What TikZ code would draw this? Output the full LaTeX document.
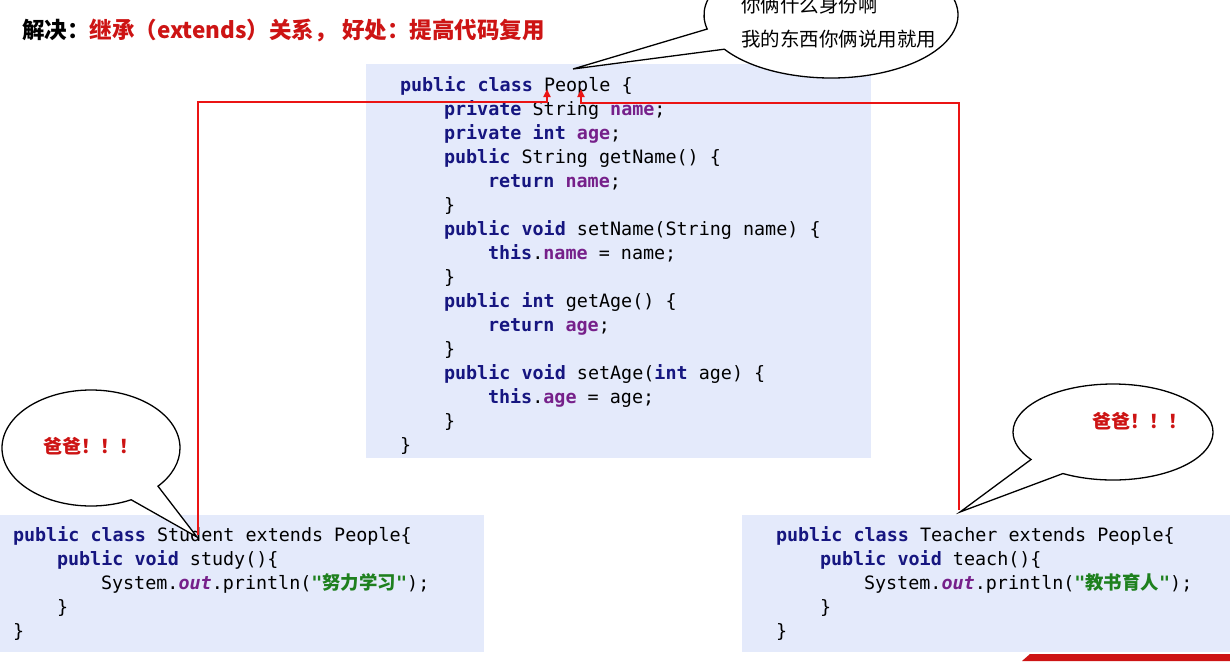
\documentclass[tikz,border=0pt]{standalone}
\usepackage{fontspec}
\usetikzlibrary{shapes.callouts,arrows.meta,calc}
\newfontfamily\cjk{Noto Sans CJK SC}
\newfontfamily\codefont{DejaVu Sans Mono}
\definecolor{kwc}{RGB}{22,22,128}
\definecolor{fldc}{RGB}{118,32,138}
\definecolor{strc}{RGB}{30,128,30}
\definecolor{boxc}{RGB}{228,234,251}
\definecolor{titlered}{RGB}{205,20,20}
\definecolor{linered}{RGB}{235,20,20}
\newcommand\kw[1]{{\bfseries\color{kwc}#1}}
\newcommand\fld[1]{{\bfseries\color{fldc}#1}}
\newcommand\jstr[1]{{\bfseries\color{strc}"{\cjk #1}"}}
\newcommand\outf{{\bfseries\itshape\color{fldc}out}}
\newcommand\codetab{\hspace*{44pt}}
\tikzset{
  codebox/.style={rectangle, fill=boxc, draw=none, inner sep=0pt, outer sep=0pt, anchor=north west},
  codetext/.style={inner sep=0pt, outer sep=0pt, anchor=north west, align=left,
    font=\codefont\fontsize{18.4}{24}\selectfont},
  bubble/.style={ellipse callout, draw=black, fill=white, line width=1.3pt, inner sep=0pt, outer sep=0pt},
  bubbletext/.style={inner sep=0pt, font=\cjk\bfseries\fontsize{19}{19}\selectfont, text=titlered},
  redline/.style={draw=linered, line width=2.2pt},
}
\begin{document}
\begin{tikzpicture}[x=1pt,y=-1pt]
\useasboundingbox[fill=white] (0,0) rectangle (1230,661);

% title
\node[anchor=west, inner sep=0pt, font=\cjk\bfseries\fontsize{22.5}{23}\selectfont] (title) at (22,30)
  {解决：\textcolor{titlered}{继承（extends）关系， 好处：提高代码复用}};

% People
\node[codebox, minimum width=505pt, minimum height=394pt] (people) at (366,64) {};
\node[codetext] (peopletext) at (400,77) {%
\kw{public} \kw{class} People \{\\
\codetab\kw{private} String \fld{name};\\
\codetab\kw{private} \kw{int} \fld{age};\\
\codetab\kw{public} String getName() \{\\
\codetab\codetab\kw{return} \fld{name};\\
\codetab\}\\
\codetab\kw{public} \kw{void} setName(String name) \{\\
\codetab\codetab\kw{this}.\fld{name} = name;\\
\codetab\}\\
\codetab\kw{public} \kw{int} getAge() \{\\
\codetab\codetab\kw{return} \fld{age};\\
\codetab\}\\
\codetab\kw{public} \kw{void} setAge(\kw{int} age) \{\\
\codetab\codetab\kw{this}.\fld{age} = age;\\
\codetab\}\\
\}};

% Student
\node[codebox, minimum width=484pt, minimum height=137pt] (student) at (0,515) {};
\node[codetext] (studenttext) at (13,527) {%
\kw{public} \kw{class} Student extends People\{\\
\codetab\kw{public} \kw{void} study()\{\\
\codetab\codetab System.\outf.println(\jstr{努力学习});\\
\codetab\}\\
\}};

% Teacher
\node[codebox, minimum width=488pt, minimum height=137pt] (teacher) at (742,515) {};
\node[codetext] (teachertext) at (776,527) {%
\kw{public} \kw{class} Teacher extends People\{\\
\codetab\kw{public} \kw{void} teach()\{\\
\codetab\codetab System.\outf.println(\jstr{教书育人});\\
\codetab\}\\
\}};

% watermark stripe
\fill[titlered] (1022,661) -- (1030,654) -- (1230,654) -- (1230,661) -- cycle;

% red inheritance connectors
\coordinate (sfrom) at (198,535);
\coordinate (sto) at (547,89);
\coordinate (tfrom) at (959,510);
\coordinate (tto) at (581,89);
\draw[redline, -{Triangle[length=8pt,width=7pt]}] (sfrom) -- (sfrom |- 0,102) -- (sto |- 0,102) -- (sto);
\draw[redline, -{Triangle[length=8pt,width=7pt]}] (tfrom) -- (tfrom |- 0,103) -- (tto |- 0,103) -- (tto);

% callouts
\node[bubble, minimum width=254pt, minimum height=126pt, callout pointer arc=20,
      callout absolute pointer={(573,69)}] (topbubble) at (831,15) {};
\node[anchor=west, inner sep=0pt, align=left, font=\cjk\fontsize{19.5}{34}\selectfont] (toptext) at (741,22)
  {你俩什么身份啊\\我的东西你俩说用就用};

\node[bubble, minimum width=178pt, minimum height=116pt, callout pointer arc=22,
      callout absolute pointer={(197,537)}] (leftbubble) at (91,448) {};
\node[bubbletext] (lefttext) at (91,446) {爸爸！！！};

\node[bubble, minimum width=200pt, minimum height=96pt, callout pointer arc=25,
      callout absolute pointer={(960,512)}] (rightbubble) at (1113,432) {};
\node[bubbletext] (righttext) at (1140,421) {爸爸！！！};
\end{tikzpicture}
\end{document}
